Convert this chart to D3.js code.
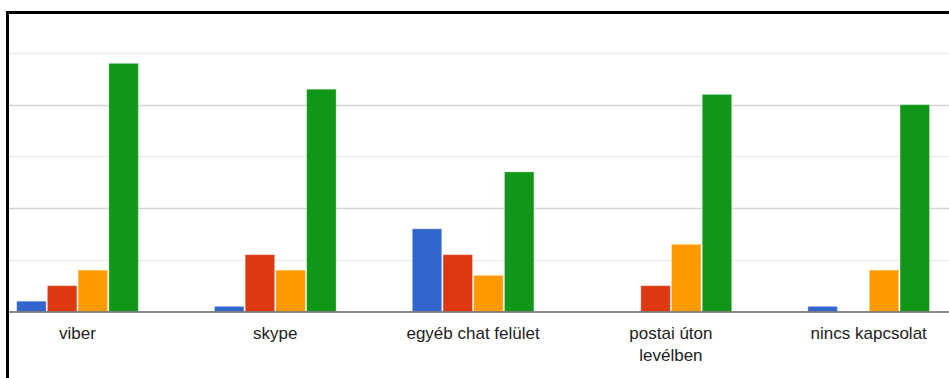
<!DOCTYPE html>
<html>
<head>
<meta charset="utf-8">
<script src="https://cdn.jsdelivr.net/npm/d3@7"></script>
<style>
  body { margin: 0; background: #fff; }
  svg { display: block; font-family: Arial, "Liberation Sans", sans-serif; }
</style>
</head>
<body>
<svg id="chart"></svg>
<script>
"use strict";
// data
var categories = ["viber", "skype", "egyéb chat felület", "postai úton levélben", "nincs kapcsolat"];
var series = ["s1", "s2", "s3", "s4"];
var colors = ["#3366cc", "#dc3912", "#ff9900", "#109618"];
var s1 = [2, 1, 16, 0, 1];
var s2 = [5, 11, 11, 5, 0];
var s3 = [8, 8, 7, 13, 8];
var s4 = [48, 43, 27, 42, 40];
var yTicks = [0, 10, 20, 30, 40, 50];

var values = [s1, s2, s3, s4];
var svgWidth = 949, svgHeight = 378;
var svg = d3.select("#chart").attr("width", svgWidth).attr("height", svgHeight);

var x = d3.scaleBand().domain(categories).range([-21.4, 967.6])
  .paddingInner(0.385).paddingOuter(0.1925);
var xs = d3.scaleBand().domain(series).range([0, x.bandwidth()]).paddingInner(0.04);
var y = d3.scaleLinear().domain([0, 50]).range([311.5, 53]);

// gridlines (major every 20, minor in between)
svg.selectAll("line.grid").data(yTicks.filter(function(d) { return d > 0; }))
  .enter().append("line")
  .attr("class", "grid")
  .attr("x1", 9).attr("x2", svgWidth)
  .attr("y1", function(d) { return Math.round(y(d)) + 0.5; })
  .attr("y2", function(d) { return Math.round(y(d)) + 0.5; })
  .attr("stroke", function(d) { return d % 20 == 0 ? "#d4d4d4" : "#ebebeb"; })
  .attr("stroke-width", 1.5);

// bars
var rows = [];
categories.forEach(function(c, i) {
  series.forEach(function(s, j) {
    if (values[j][i] > 0) rows.push({ cat: c, ser: s, v: values[j][i], col: colors[j] });
  });
});
svg.selectAll("rect.bar").data(rows).enter().append("rect")
  .attr("class", "bar")
  .attr("x", function(d) { return x(d.cat) + xs(d.ser); })
  .attr("width", xs.bandwidth())
  .attr("y", function(d) { return y(d.v); })
  .attr("height", function(d) { return y(0) - y(d.v); })
  .attr("fill", function(d) { return d.col; })
  .attr("stroke", "#ffffff")
  .attr("stroke-opacity", 0.35)
  .attr("stroke-width", 1);

// baseline
svg.append("line")
  .attr("x1", 9).attr("x2", svgWidth)
  .attr("y1", y(0) + 0.5).attr("y2", y(0) + 0.5)
  .attr("stroke", "#5f5f5f").attr("stroke-width", 1.5);

// category labels, wrapped like the original
var labels = svg.selectAll("text.cat").data(categories).enter().append("text")
  .attr("class", "cat")
  .attr("text-anchor", "middle")
  .attr("font-size", "17px")
  .attr("fill", "#222")
  .attr("x", function(d) { return x(d) + x.bandwidth() / 2; })
  .attr("y", 339);

labels.each(function(d) {
  var t = d3.select(this), words = d.split(" "), line = [], n = 0;
  var tspan = t.append("tspan").attr("x", t.attr("x")).attr("dy", 0);
  words.forEach(function(w) {
    line.push(w);
    tspan.text(line.join(" "));
    if (tspan.node().getComputedTextLength() > 140 && line.length > 1) {
      line.pop();
      tspan.text(line.join(" "));
      line = [w];
      n++;
      tspan = t.append("tspan").attr("x", t.attr("x")).attr("dy", "21.5px").text(w);
    }
  });
});

// black frame (top and left edges visible)
svg.append("path")
  .attr("d", "M7.5," + svgHeight + "V12.5H" + svgWidth)
  .attr("fill", "none")
  .attr("stroke", "#000")
  .attr("stroke-width", 3);
</script>
</body>
</html>
